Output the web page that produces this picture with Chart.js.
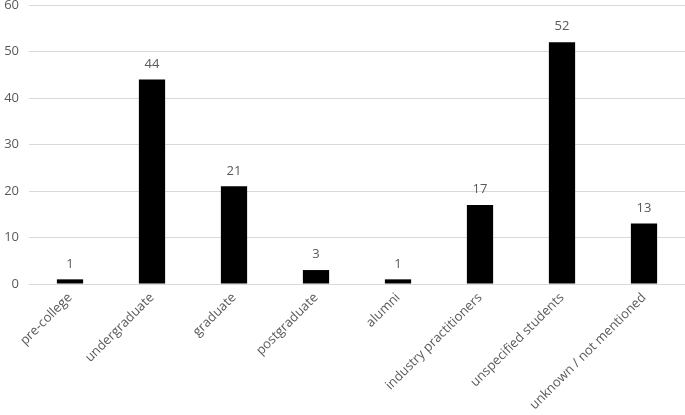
<!DOCTYPE html>
<html>
<head>
<meta charset="utf-8">
<script src="https://cdn.jsdelivr.net/npm/chart.js@4"></script>
<style>
  html, body { margin: 0; padding: 0; background: #fff; }
  #wrap { width: 685px; height: 415px; }
</style>
</head>
<body>
<div id="wrap"><canvas id="myChart" width="685" height="415"></canvas></div>
<script>
const categories = ['pre-college', 'undergraduate', 'graduate', 'postgraduate', 'alumni',
  'industry practitioners', 'unspecified students', 'unknown / not mentioned'];
const counts = [1, 44, 21, 3, 1, 17, 52, 13];
const yTicks = [0, 10, 20, 30, 40, 50, 60];

const textColor = '#595959';
const fontFamily = '"Open Sans", "Liberation Sans", sans-serif';

// draw the number above each bar
const valueLabels = {
  id: 'valueLabels',
  afterDatasetsDraw(chart) {
    const ctx = chart.ctx;
    const meta = chart.getDatasetMeta(0);
    ctx.save();
    ctx.fillStyle = textColor;
    ctx.font = '13px ' + fontFamily;
    ctx.textAlign = 'center';
    ctx.textBaseline = 'bottom';
    meta.data.forEach((bar, i) => {
      ctx.fillText(String(counts[i]), bar.x, bar.y - 9);
    });
    ctx.restore();
  }
};

const chart = new Chart(document.getElementById('myChart'), {
  type: 'bar',
  data: {
    labels: categories,
    datasets: [{
      data: counts,
      backgroundColor: '#000000',
      barPercentage: 0.32,
      categoryPercentage: 1.0,
    }],
  },
  options: {
    responsive: false,
    animation: false,
    layout: { padding: { top: 5, right: 0, left: 0, bottom: 0 } },
    plugins: { legend: { display: false }, tooltip: { enabled: false } },
    scales: {
      x: {
        grid: { display: false, drawTicks: false },
        border: { color: '#d9d9d9', width: 1 },
        ticks: {
          color: textColor,
          font: { family: fontFamily, size: 13 },
          minRotation: 45,
          maxRotation: 45,
          padding: 6,
          autoSkip: false,
        },
        afterFit(axis) { axis.height = 131; },
      },
      y: {
        min: 0,
        max: 60,
        afterBuildTicks(axis) { axis.ticks = yTicks.map(v => ({ value: v })); },
        grid: { color: '#d9d9d9', drawTicks: false },
        border: { display: false },
        ticks: {
          color: textColor,
          font: { family: fontFamily, size: 13 },
          padding: 10,
        },
        afterFit(axis) {
          axis.width = 29;
          axis.paddingTop = 0;
          axis.paddingBottom = 0;
        },
      },
    },
  },
  plugins: [valueLabels],
});
</script>
</body>
</html>
